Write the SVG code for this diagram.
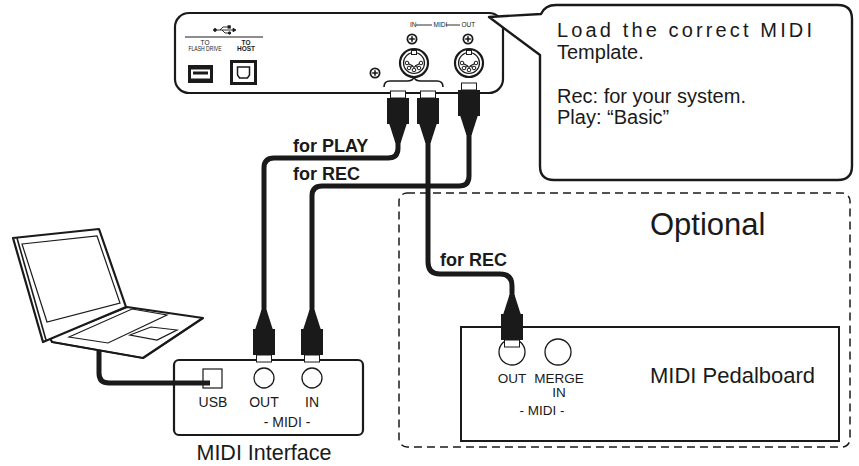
<svg xmlns="http://www.w3.org/2000/svg" width="859" height="466" viewBox="0 0 859 466">
  <style>
    .txt { font-family: "Liberation Sans", Arial, sans-serif; fill: #1a1a1a; }
    .bold { font-family: "Liberation Sans", Arial, sans-serif; font-weight: bold; fill: #1a1a1a; }
    .tiny { font-family: "Liberation Sans", Arial, sans-serif; font-size: 6.5px; fill: #1a1a1a; }
    .box { fill: #fff; stroke: #1a1a1a; stroke-width: 2.2; }
    .cable { fill: none; stroke: #1a1a1a; stroke-width: 5; stroke-linejoin: round; }
    .jack { fill: #fff; stroke: #1a1a1a; stroke-width: 1.3; }
    .line { fill: none; stroke: #1a1a1a; stroke-width: 1.6; stroke-linejoin: round; }
  </style>
  <defs>
    <!-- MIDI plug, connector tip at the top (y=0), cable leaving downward -->
    <g id="plug">
      <rect x="-7.5" y="0" width="15" height="7" fill="#fff" stroke="#1a1a1a" stroke-width="1"/>
      <rect x="-11" y="7" width="22" height="26" fill="#1a1a1a"/>
      <polygon points="-9,32 9,32 2.6,52 -2.6,52" fill="#1a1a1a"/>
    </g>
    <!-- front panel screw -->
    <g id="screw">
      <circle r="5.5" fill="#1a1a1a"/>
      <circle r="3.7" fill="#fff"/>
      <path d="M-2.8,0H2.8M0,-2.8V2.8" stroke="#1a1a1a" stroke-width="1.6"/>
    </g>
    <!-- 5-pin DIN socket -->
    <g id="din">
      <circle r="14" fill="#fff" stroke="#1a1a1a" stroke-width="2.2"/>
      <circle r="10.5" fill="none" stroke="#1a1a1a" stroke-width="1.2"/>
      <rect x="-2.5" y="-12.5" width="5" height="4" fill="#fff" stroke="#1a1a1a" stroke-width="1"/>
      <path d="M-7,0L-1,3M-5,5L-1,3M0,7L0,3M5,5L1,3M7,0L1,3" stroke="#1a1a1a" stroke-width="1.3" fill="none"/>
      <circle cx="-7" cy="0" r="1.8" fill="#fff" stroke="#1a1a1a" stroke-width="1"/>
      <circle cx="-5" cy="5" r="1.8" fill="#fff" stroke="#1a1a1a" stroke-width="1"/>
      <circle cx="0" cy="7" r="1.8" fill="#fff" stroke="#1a1a1a" stroke-width="1"/>
      <circle cx="5" cy="5" r="1.8" fill="#fff" stroke="#1a1a1a" stroke-width="1"/>
      <circle cx="7" cy="0" r="1.8" fill="#fff" stroke="#1a1a1a" stroke-width="1"/>
    </g>
  </defs>

  <rect width="859" height="466" fill="#fff"/>

  <!-- optional section frame -->
  <g id="optional">
    <rect x="399" y="193" width="451" height="254" rx="8" fill="none" stroke="#1a1a1a" stroke-width="1.5" stroke-dasharray="8 5"/>
    <text class="txt" x="650" y="235" font-size="31">Optional</text>
  </g>

  <!-- MIDI pedalboard -->
  <g id="pedalboard">
    <rect x="461" y="327" width="378" height="114" fill="#fff" stroke="#1a1a1a" stroke-width="2"/>
    <circle class="jack" cx="512" cy="352" r="13"/>
    <circle class="jack" cx="558" cy="352" r="13"/>
    <text class="txt" x="512" y="383" font-size="13.5" text-anchor="middle">OUT</text>
    <text class="txt" x="559" y="383" font-size="13.5" text-anchor="middle">MERGE</text>
    <text class="txt" x="559" y="397" font-size="13.5" text-anchor="middle">IN</text>
    <text class="txt" x="542" y="415" font-size="13.5" text-anchor="middle">- MIDI -</text>
    <text class="txt" x="650" y="383" font-size="22">MIDI Pedalboard</text>
  </g>

  <!-- MIDI interface -->
  <g id="midi-interface">
    <rect class="box" x="174" y="360" width="189" height="75" rx="5"/>
    <rect x="203" y="369" width="19" height="19" fill="#fff" stroke="#1a1a1a" stroke-width="1.2"/>
    <circle class="jack" cx="264" cy="378" r="10"/>
    <circle class="jack" cx="312" cy="378" r="10"/>
    <text class="txt" x="213" y="407" font-size="14" text-anchor="middle">USB</text>
    <text class="txt" x="264" y="407" font-size="14" text-anchor="middle">OUT</text>
    <text class="txt" x="312" y="407" font-size="14" text-anchor="middle">IN</text>
    <text class="txt" x="287" y="427" font-size="14" text-anchor="middle">- MIDI -</text>
    <text class="txt" x="264" y="460" font-size="21.5" text-anchor="middle">MIDI Interface</text>
  </g>

  <!-- laptop computer -->
  <g id="laptop">
    <path class="cable" d="M99,350 V373 Q99,383 109,383 H210"/>
    <!-- base -->
    <polygon points="50,338 127,307 203,318 143,358 52,342" fill="#fff" stroke="#1a1a1a" stroke-width="2.2" stroke-linejoin="round"/>
    <path class="line" d="M52,342 L143,358 L203,318" stroke-width="3"/>
    <polygon points="69,337 132,309 167,315 108,343" fill="none" stroke="#1a1a1a" stroke-width="1.2"/>
    <polygon points="130,335 151,327 177,330 157,340" fill="none" stroke="#1a1a1a" stroke-width="1.2"/>
    <!-- lid -->
    <polygon points="13,238 99,229 126,307 43,342" fill="#fff" stroke="#1a1a1a" stroke-width="2.2" stroke-linejoin="round"/>
    <path class="line" d="M17,238 L46,340" stroke-width="1.2"/>
    <polygon points="22,244 97,236 120,303 47,322" fill="none" stroke="#1a1a1a" stroke-width="1.2"/>
  </g>

  <!-- instrument rear panel -->
  <g id="panel">
    <rect class="box" x="175" y="13" width="328" height="80" rx="14" stroke-width="2.4"/>
    <!-- USB section -->
    <g id="usb-symbol" fill="#1a1a1a" stroke="#1a1a1a" stroke-width="0.9">
      <line x1="215" y1="30" x2="233" y2="30"/>
      <circle cx="215" cy="30" r="1.4"/>
      <polygon points="233,28.3 236,30 233,31.7"/>
      <polyline points="220,30 223,27 228,27" fill="none"/>
      <rect x="228" y="25.8" width="2.3" height="2.3"/>
      <polyline points="222,30 225,33 229,33" fill="none"/>
      <circle cx="229.5" cy="33" r="1.2"/>
    </g>
    <line x1="185" y1="37" x2="263" y2="37" stroke="#1a1a1a" stroke-width="1"/>
    <text class="tiny" x="205" y="45" text-anchor="middle">TO</text>
    <text class="tiny" x="205" y="51" text-anchor="middle" textLength="33" lengthAdjust="spacingAndGlyphs">FLASH DRIVE</text>
    <text class="tiny" x="246" y="45" text-anchor="middle" font-weight="bold">TO</text>
    <text class="tiny" x="246" y="51" text-anchor="middle" font-weight="bold">HOST</text>
    <!-- USB-A socket -->
    <rect x="188" y="65" width="25" height="18" fill="#1a1a1a"/>
    <rect x="191" y="69.5" width="19" height="9" fill="#fff"/>
    <rect x="193" y="71.5" width="15" height="3" fill="#1a1a1a"/>
    <!-- USB-B socket -->
    <rect x="230" y="60" width="27" height="25" fill="#1a1a1a"/>
    <rect x="233" y="63" width="21" height="19" fill="#fff"/>
    <path d="M237.5,67 H249.5 V75 L247.5,78 H239.5 L237.5,75 Z" fill="none" stroke="#1a1a1a" stroke-width="1.5"/>
    <!-- MIDI section -->
    <text class="tiny" x="410" y="27">IN</text>
    <line x1="416" y1="25" x2="432" y2="25" stroke="#1a1a1a" stroke-width="0.9"/>
    <text class="tiny" x="433.5" y="27">MIDI</text>
    <line x1="446" y1="25" x2="460" y2="25" stroke="#1a1a1a" stroke-width="0.9"/>
    <text class="tiny" x="461.5" y="27">OUT</text>
    <use href="#screw" x="412" y="39"/>
    <use href="#screw" x="468" y="39"/>
    <use href="#screw" x="375" y="73"/>
    <use href="#din" x="414" y="63"/>
    <use href="#din" x="469" y="63"/>
    <path class="line" d="M384,87 Q384,81 390,81 H407 Q413,81 414,77 Q415,81 421,81 H437 Q443,81 443,87" stroke-width="1"/>
  </g>

  <!-- callout -->
  <g id="callout">
    <path d="M489,17 L541,14 Q545,5 556,5 H838 Q852,5 852,19 V166 Q852,180 838,180 H554 Q540,180 540,166 V55 Z" fill="#fff" stroke="#1a1a1a" stroke-width="2.4" stroke-linejoin="round"/>
    <text class="txt" x="557" y="37" font-size="20" textLength="255" lengthAdjust="spacing">Load the correct MIDI</text>
    <text class="txt" x="557" y="59" font-size="20">Template.</text>
    <text class="txt" x="557" y="103" font-size="20">Rec: for your system.</text>
    <text class="txt" x="557" y="124" font-size="20">Play: “Basic”</text>
  </g>

  <!-- cables and plugs -->
  <g id="connectors">
    <path class="cable" d="M428,140 V262 Q428,274 440,274 H500 Q512,274 512,286 V298"/>
    <path class="cable" d="M398,140 V148 Q398,158 388,158 H274 Q264,158 264,168 V315"/>
    <path class="cable" d="M469,132 V176 Q469,186 459,186 H322 Q312,186 312,196 V315"/>
    <use href="#plug" transform="translate(398,91)"/>
    <use href="#plug" transform="translate(428,91)"/>
    <use href="#plug" transform="translate(469,83)"/>
    <use href="#plug" transform="translate(264,362) scale(1,-1)"/>
    <use href="#plug" transform="translate(312,362) scale(1,-1)"/>
    <use href="#plug" transform="translate(512,347) scale(1,-1)"/>
    <text class="bold" x="293" y="152" font-size="18">for PLAY</text>
    <text class="bold" x="293" y="180" font-size="18">for REC</text>
    <text class="bold" x="440" y="266" font-size="18">for REC</text>
  </g>
</svg>
